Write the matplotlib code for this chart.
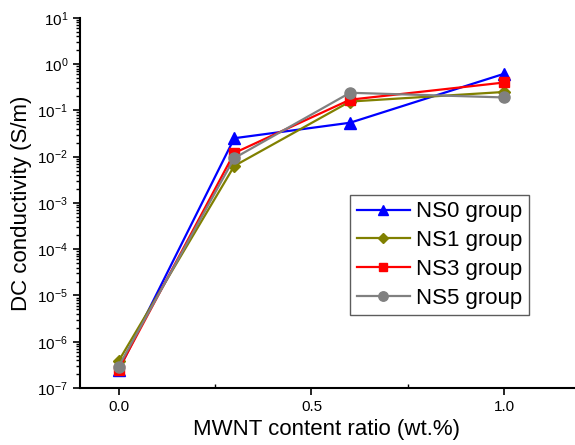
import matplotlib
matplotlib.use("Agg")
import matplotlib.pyplot as plt
from matplotlib.ticker import LogLocator, MultipleLocator, NullFormatter

plt.rcParams["font.family"] = ["Liberation Sans", "DejaVu Sans"]

mwnt = [0.0, 0.3, 0.6, 1.0]
ns0 = [2.4e-7, 0.025, 0.054, 0.62]
ns1 = [3.8e-7, 0.0063, 0.155, 0.25]
ns3 = [2.5e-7, 0.012, 0.17, 0.40]
ns5 = [2.9e-7, 0.0093, 0.24, 0.19]

fig = plt.figure(figsize=(5.75, 4.45), dpi=100)
ax = fig.add_axes([0.139, 0.128, 0.859, 0.832])

ax.plot(mwnt, ns0, color="#0000ff", marker="^", ms=8, lw=1.6, label="NS0 group")
ax.plot(mwnt, ns1, color="#808000", marker="D", ms=6.5, lw=1.6, label="NS1 group")
ax.plot(mwnt, ns3, color="#ff0000", marker="s", ms=7, lw=1.6, label="NS3 group")
ax.plot(mwnt, ns5, color="#808080", marker="o", ms=8, lw=1.6, label="NS5 group")

ax.set_yscale("log")
ax.set_ylim(1e-7, 1e1)
ax.set_xlim(-0.1, 1.18)
ax.yaxis.set_major_locator(LogLocator(base=10, numticks=20))
ax.yaxis.set_minor_locator(LogLocator(base=10, subs=range(2, 10), numticks=20))
ax.yaxis.set_minor_formatter(NullFormatter())
ax.xaxis.set_major_locator(MultipleLocator(0.5))
ax.xaxis.set_minor_locator(MultipleLocator(0.25))
ax.xaxis.set_major_formatter(matplotlib.ticker.FormatStrFormatter("%.1f"))

ax.spines["top"].set_visible(False)
ax.spines["right"].set_visible(False)
ax.spines["left"].set_linewidth(1.5)
ax.spines["bottom"].set_linewidth(1.5)
ax.tick_params(axis="both", which="major", labelsize=11, width=1.2, length=5)
ax.tick_params(axis="both", which="minor", width=1, length=3)
ax.tick_params(axis="x", which="minor", direction="in")

ax.set_xlabel("MWNT content ratio (wt.%)", fontsize=16)
ax.set_ylabel("DC conductivity (S/m)", fontsize=16)

# legend box sits in the lower right, below the curves
leg = ax.legend(loc="upper left", bbox_to_anchor=(0.547, 0.522), fontsize=16,
                frameon=True, fancybox=False, edgecolor="#333333",
                handlelength=2.4, handletextpad=0.25, borderpad=0.3,
                labelspacing=0.35, borderaxespad=0, markerscale=0.85)
leg.get_frame().set_linewidth(1)

fig.savefig("out.png", dpi=100)
